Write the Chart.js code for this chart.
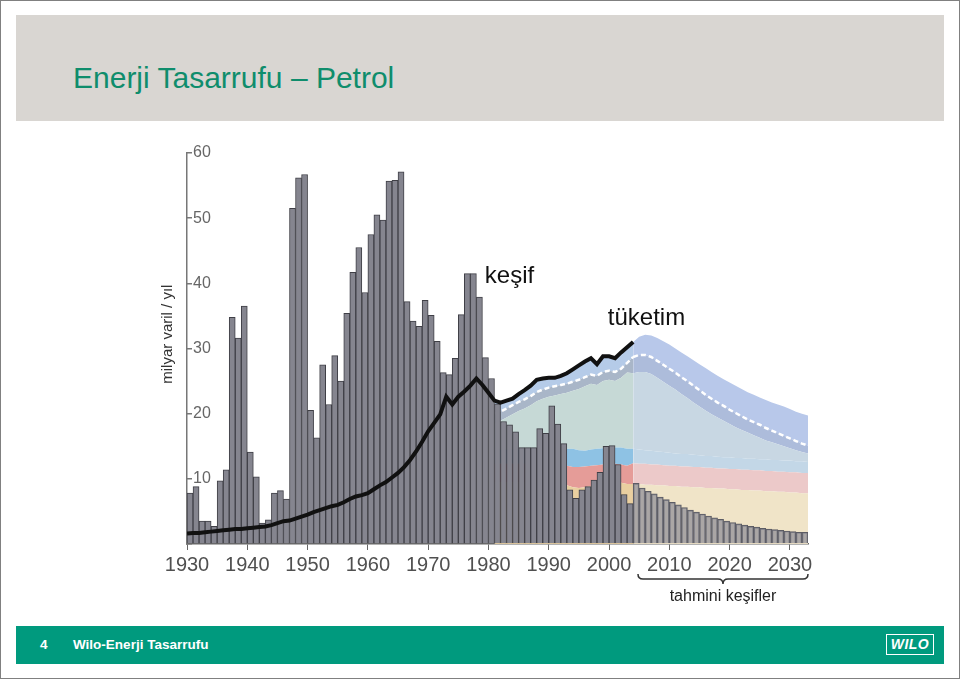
<!DOCTYPE html>
<html lang="tr">
<head>
<meta charset="utf-8">
<title>Enerji Tasarrufu – Petrol</title>
<script src="https://cdn.jsdelivr.net/npm/chart.js@4.4.1/dist/chart.umd.min.js"></script>
<style>
  html, body { margin: 0; padding: 0; background: #fff; }
  #page { position: relative; width: 958px; height: 677px; border: 1px solid #808080; overflow: hidden; font-family: "Liberation Sans", Arial, sans-serif; }
  #header { position: absolute; left: 15px; top: 14px; width: 928px; height: 106px; background: #d9d6d2; }
  #title { position: absolute; left: 57px; top: 48px; font-size: 30px; line-height: 30px; color: #0f8d6c; white-space: nowrap; }
  #chartBox { position: absolute; left: 139px; top: 129px; width: 700px; height: 480px; }
  #footer { position: absolute; left: 15px; top: 625px; width: 928px; height: 38px; background: #009a7e; color: #fff; font-weight: bold; font-size: 13.5px; line-height: 38px; }
  #footer .num { position: absolute; left: 24px; }
  #footer .name { position: absolute; left: 57px; }
  #footer .logo { position: absolute; left: 870px; top: 8px; width: 46px; height: 19px; border: 1.5px solid #fff; line-height: 19px; text-align: center; font-style: italic; font-size: 14px; letter-spacing: 0.5px; }
</style>
</head>
<body>
<div id="page">
  <div id="header"><div id="title">Enerji Tasarrufu – Petrol</div></div>
  <div id="chartBox"><canvas id="grafico" width="700" height="480"></canvas></div>
  <div id="footer"><span class="num">4</span><span class="name">Wilo-Enerji Tasarrufu</span><div class="logo">WILO</div></div>
</div>
<script>
// keşif (milyar varil / yıl), 1930-2003
const discovered = [
  7.8, 8.8, 3.5, 3.5, 2.7, 9.7, 11.4, 34.8, 31.6, 36.5,
  14.1, 10.3, 3.2, 3.7, 7.8, 8.2, 6.9, 51.5, 56.2, 56.7,
  20.5, 16.3, 27.5, 21.4, 28.9, 25.0, 35.4, 41.7, 45.5, 38.6,
  47.5, 50.5, 49.7, 55.7, 55.8, 57.1, 37.2, 34.2, 33.4, 37.4,
  35.1, 31.1, 26.3, 26.0, 28.5, 35.2, 41.5, 41.5, 37.9, 28.6,
  25.4, 21.5, 18.8, 18.3, 17.2, 14.8, 14.8, 14.8, 17.7, 17.0,
  21.2, 18.4, 15.4, 8.3, 7.0, 8.3, 8.8, 9.8, 11.0, 15.0,
  15.1, 12.2, 7.6, 6.2
];
// tahmini keşifler, 2004-2032
const forecastDiscoveries = [
  9.3, 8.6, 8.1, 7.7, 7.2, 6.8, 6.4, 6.0, 5.6, 5.2,
  4.9, 4.6, 4.3, 4.0, 3.8, 3.5, 3.3, 3.1, 2.9, 2.7,
  2.6, 2.4, 2.3, 2.2, 2.1, 2.0, 1.9, 1.8, 1.8
];
// tüketim, 1930-2004
const consumption = [
  1.6, 1.7, 1.7, 1.8, 1.9, 2.0, 2.1, 2.2, 2.3, 2.3,
  2.4, 2.5, 2.6, 2.7, 2.9, 3.2, 3.5, 3.6, 3.9, 4.2,
  4.5, 4.9, 5.2, 5.5, 5.8, 6.0, 6.4, 6.9, 7.3, 7.5,
  7.8, 8.4, 9.0, 9.5, 10.2, 10.9, 11.8, 12.9, 14.2, 15.7,
  17.3, 18.6, 19.9, 22.6, 21.4, 22.6, 23.4, 24.3, 25.4, 24.4,
  23.2, 22.0, 21.7, 22.0, 22.3, 23.0, 23.6, 24.3, 25.2, 25.4,
  25.5, 25.5, 25.8, 26.2, 26.8, 27.4, 28.0, 28.5, 27.6, 28.8,
  28.8, 28.5, 29.4, 30.2, 31.0
];
// tahmini tüketim üst sınırı, 2004-2033
const demandForecast = [
  31.0, 31.8, 32.1, 32.0, 31.6, 31.1, 30.6, 30.0, 29.4, 28.8,
  28.2, 27.6, 27.0, 26.4, 25.8, 25.3, 24.8, 24.3, 23.8, 23.3,
  22.9, 22.5, 22.1, 21.7, 21.4, 21.1, 20.7, 20.3, 20.0, 19.7
];
// alan sınırları, 1981-2033
const whiteLine = [
  20.0, 20.3, 20.8, 21.3, 21.8, 22.2, 22.7, 23.3, 23.7, 24.0,
  24.2, 24.4, 24.6, 24.9, 25.2, 25.6, 26.0, 25.8, 26.4, 26.6,
  26.4, 26.9, 27.8, 28.7, 29.0, 29.0, 28.7, 28.1, 27.5, 26.9,
  26.3, 25.6, 25.0, 24.3, 23.6, 22.9, 22.3, 21.7, 21.2, 20.6,
  20.1, 19.6, 19.1, 18.7, 18.3, 17.8, 17.4, 17.0, 16.6, 16.2,
  15.8, 15.4, 15.1
];
const greyBottom = [
  18.6, 18.9, 19.4, 19.9, 20.4, 20.8, 21.3, 21.9, 22.3, 22.6,
  22.8, 23.0, 23.2, 23.5, 23.8, 24.2, 24.6, 24.4, 25.0, 25.2,
  25.0, 25.5, 26.3, 26.2, 26.4, 26.4, 26.1, 25.5, 24.9, 24.3,
  23.7, 23.0, 22.4, 21.7, 21.1, 20.5, 19.9, 19.4, 18.9, 18.4,
  17.9, 17.5, 17.1, 16.7, 16.3, 15.9, 15.6, 15.3, 15.0, 14.7,
  14.4, 14.1, 13.9
];
const cyanTop = [
  14.5, 14.5, 14.5, 14.5, 14.5, 14.5, 14.5, 14.5, 14.5, 14.3,
  14.4, 14.5, 14.6, 14.6, 14.4, 14.3, 14.5, 14.6, 14.7, 14.8,
  14.8, 14.8, 14.6, 14.6, 14.5, 14.4, 14.3, 14.2, 14.1, 14.0,
  13.9, 13.8, 13.8, 13.7, 13.6, 13.5, 13.5, 13.4, 13.3, 13.3,
  13.2, 13.2, 13.1, 13.1, 13.0, 13.0, 12.9, 12.9, 12.8, 12.8,
  12.7, 12.7, 12.6
];
const pinkTop = [
  12.3, 12.3, 12.3, 12.3, 12.3, 12.3, 12.3, 12.3, 12.3, 12.3,
  12.2, 12.1, 12.0, 11.8, 11.8, 11.9, 12.0, 12.1, 12.2, 12.3,
  12.3, 12.2, 12.0, 12.4, 12.3, 12.3, 12.2, 12.2, 12.1, 12.0,
  12.0, 11.9, 11.9, 11.8, 11.8, 11.7, 11.7, 11.6, 11.6, 11.5,
  11.5, 11.4, 11.4, 11.3, 11.3, 11.2, 11.2, 11.1, 11.1, 11.0,
  11.0, 10.9, 10.9
];
const beigeTop = [
  9.5, 9.5, 9.5, 9.5, 9.5, 9.5, 9.5, 9.5, 9.5, 9.5,
  9.5, 9.4, 9.0, 8.7, 8.6, 8.7, 8.9, 9.1, 9.3, 9.5,
  9.6, 9.4, 9.2, 9.2, 9.2, 9.1, 9.1, 9.0, 9.0, 8.9,
  8.9, 8.8, 8.8, 8.7, 8.7, 8.6, 8.6, 8.5, 8.5, 8.4,
  8.4, 8.3, 8.3, 8.2, 8.2, 8.1, 8.1, 8.0, 8.0, 7.9,
  7.9, 7.8, 7.8
];
const xTicks = [1930, 1940, 1950, 1960, 1970, 1980, 1990, 2000, 2010, 2020, 2030];

const FONT = '"Liberation Sans", Arial, sans-serif';
const areaStart = 1981;
const areaTop = consumption.slice(areaStart - 1930, 2004 - 1930).concat(demandForecast);

function pts(values, start, shift) {
  return values.map((v, i) => ({ x: start + i + shift, y: v }));
}
function area(values, fill, past, future, extra) {
  return Object.assign({
    type: 'line',
    data: pts(values, areaStart, 0),
    fill: fill,
    order: 3,
    pointRadius: 0,
    borderWidth: 0,
    borderColor: 'rgba(0,0,0,0)',
    backgroundColor: past,
    segment: { backgroundColor: c => c.p0.parsed.x >= 2004 ? future : past }
  }, extra || {});
}

const annotations = {
  id: 'annotations',
  afterDraw(chart) {
    const { ctx, scales: { x, y } } = chart;
    ctx.save();
    ctx.fillStyle = '#111';
    ctx.textBaseline = 'middle';
    ctx.font = '24px ' + FONT;
    ctx.fillText('keşif', x.getPixelForValue(1979.4), y.getPixelForValue(41));
    ctx.fillText('tüketim', x.getPixelForValue(1999.8), y.getPixelForValue(34.6));

    // y ekseni başlığı
    ctx.save();
    ctx.translate(x.left - 19, y.getPixelForValue(32.2));
    ctx.rotate(-Math.PI / 2);
    ctx.textAlign = 'center';
    ctx.fillStyle = '#333';
    ctx.font = '15px ' + FONT;
    ctx.fillText('milyar varil / yıl', 0, 0);
    ctx.restore();

    // tahmini keşifler parantezi
    const x0 = x.getPixelForValue(2004.8), x1 = x.getPixelForValue(2033);
    const mid = (x0 + x1) / 2, top = y.bottom + 30;
    ctx.strokeStyle = '#333';
    ctx.lineWidth = 1.5;
    ctx.beginPath();
    ctx.moveTo(x0, top);
    ctx.quadraticCurveTo(x0, top + 5, x0 + 5, top + 5);
    ctx.lineTo(mid - 5, top + 5);
    ctx.quadraticCurveTo(mid, top + 5, mid, top + 10);
    ctx.quadraticCurveTo(mid, top + 5, mid + 5, top + 5);
    ctx.lineTo(x1 - 5, top + 5);
    ctx.quadraticCurveTo(x1, top + 5, x1, top);
    ctx.stroke();
    ctx.fillStyle = '#222';
    ctx.textAlign = 'center';
    ctx.font = '16px ' + FONT;
    ctx.fillText('tahmini keşifler', mid, top + 23);
    ctx.restore();
  }
};

new Chart(document.getElementById('grafico'), {
  type: 'bar',
  data: {
    datasets: [
      area(beigeTop, 'origin', '#e9cfa0', '#f0e4c8'),
      area(pinkTop, '-1', '#e59c98', '#ecc9c9'),
      area(cyanTop, '-1', '#8ec2e4', '#c3d7e7'),
      area(greyBottom, '-1', '#c6d9d6', '#c8d7e3'),
      area(whiteLine, '-1', '#a9b6c8', '#adbcdb', {
        borderWidth: 2.5, borderColor: '#ffffff', borderDash: [5, 3]
      }),
      area(areaTop, '-1', '#b5cbe8', '#b8c8ea'),
      {
        type: 'bar',
        data: pts(discovered, 1930, 0.5),
        order: 2,
        grouped: false,
        barPercentage: 1,
        categoryPercentage: 1,
        backgroundColor: '#85858f',
        borderColor: '#3f3f46',
        borderWidth: 1
      },
      {
        type: 'bar',
        data: pts(forecastDiscoveries, 2004, 0.5),
        order: 2,
        grouped: false,
        barPercentage: 1,
        categoryPercentage: 1,
        backgroundColor: 'rgba(140,140,150,0.7)',
        borderColor: '#5c5c64',
        borderWidth: 1
      },
      {
        type: 'line',
        data: pts(consumption, 1930, 0),
        order: 1,
        borderColor: '#111',
        borderWidth: 4,
        pointRadius: 0,
        fill: false,
        tension: 0
      }
    ]
  },
  options: {
    responsive: false,
    animation: false,
    devicePixelRatio: 1,
    layout: { padding: { left: 0, right: 32, top: 23, bottom: 0 } },
    plugins: { legend: { display: false }, tooltip: { enabled: false } },
    scales: {
      x: {
        type: 'linear',
        min: 1930,
        max: 2033,
        offset: false,
        afterBuildTicks: axis => { axis.ticks = xTicks.map(v => ({ value: v })); },
        afterFit: axis => { axis.height = 66; },
        ticks: {
          autoSkip: false, maxRotation: 0, padding: 3, color: '#505050',
          font: { family: FONT, size: 20 },
          callback: v => String(v)
        },
        grid: { offset: false, drawOnChartArea: false, drawTicks: true, tickLength: 6, color: '#666' },
        border: { display: true, color: '#666', width: 1.5 }
      },
      y: {
        min: 0,
        max: 60,
        afterFit: axis => { axis.width = 47; },
        ticks: {
          stepSize: 10, mirror: true, padding: 6, color: '#666',
          font: { family: FONT, size: 16 },
          callback: v => v === 0 ? '' : v
        },
        grid: { drawOnChartArea: false, drawTicks: true, tickLength: -5, color: '#777', lineWidth: 1.5 },
        border: { display: true, color: '#777', width: 1.5 }
      }
    }
  },
  plugins: [annotations]
});
</script>
</body>
</html>
